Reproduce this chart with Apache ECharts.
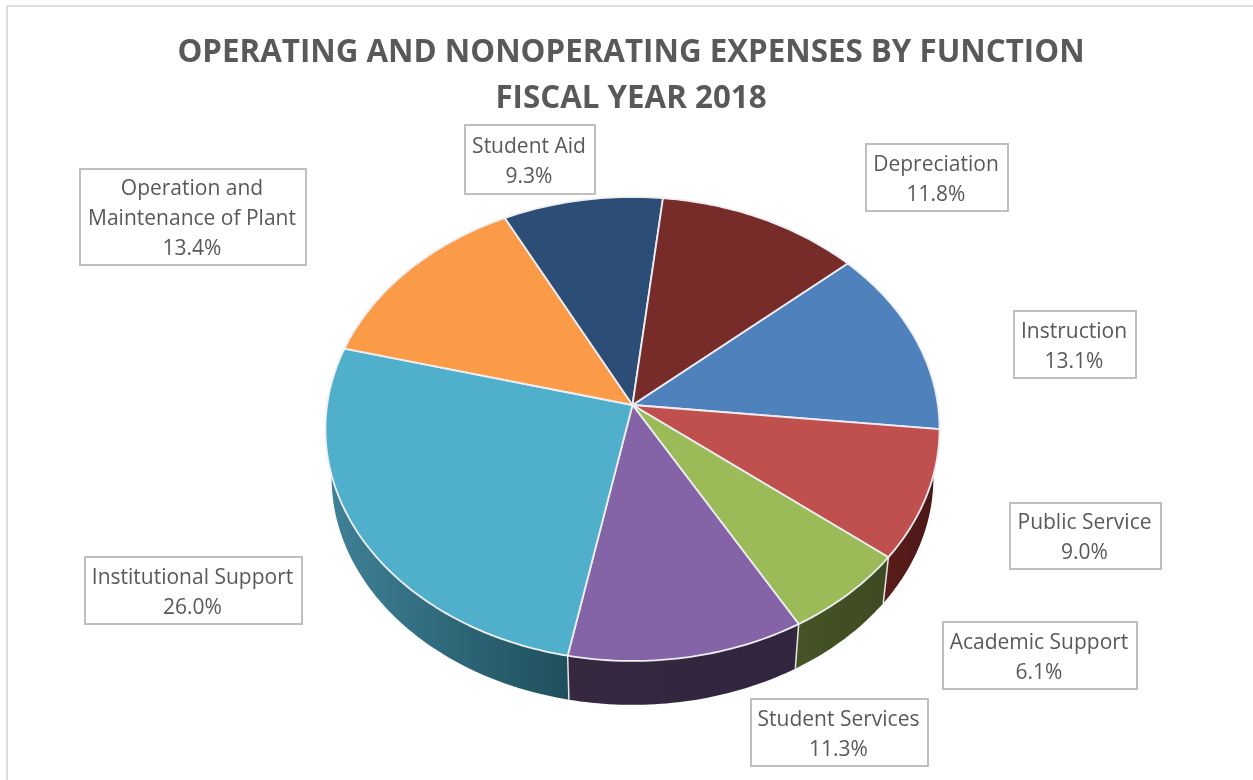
<!DOCTYPE html>
<html>
<head>
<meta charset="utf-8">
<title>Operating and Nonoperating Expenses by Function</title>
<style>
  html, body { margin: 0; padding: 0; background: #fff; }
  #chart { width: 1253px; height: 780px; }
</style>
<script src="https://cdn.jsdelivr.net/npm/echarts@6/dist/echarts.min.js"></script>
</head>
<body>
<div id="chart"></div>
<script>
// Expense shares in percent, clockwise from the upper right of the pie
const categories = ['Instruction', 'Public Service', 'Academic Support', 'Student Services',
  'Institutional Support', 'Operation and\nMaintenance of Plant', 'Student Aid', 'Depreciation'];
const shares = [13.1, 9.0, 6.1, 11.3, 26.0, 13.4, 9.3, 11.8];

const topColors = ['#4f81bd', '#c0504d', '#9bbb59', '#8464a6', '#50b0cc', '#fb9b48', '#2c4d75', '#772c2a'];
const wallLeftColors = ['#2f4d71', '#5a1e1c', '#465426', '#35283f', '#408299', '#a0602c', '#1a2e46', '#471a19'];
const wallRightColors = ['#2b4667', '#4a1614', '#3e4a22', '#312540', '#1f4f5c', '#8f5628', '#182a40', '#401716'];

// Annotation boxes: left, top, width, height
const labelBoxes = [
  [1014, 311, 122, 67], [1010, 503, 151, 66], [943, 622, 194, 67], [751, 699, 177, 67],
  [85, 557, 217, 67], [80, 169, 226, 96], [465, 125, 130, 69], [866, 144, 142, 67]
];

// Projection of the tilted disc: the far side is foreshortened, so the apex sits above the ellipse centre
const apex = { x: 632.5, y: 405 };
const radiusX = 305.4;
const radiusY = 229.5;
const foreshorten = 0.1034;
const firstSliceAngle = 41.2;     // degrees above the horizontal
const rimDrop = 49;
const rimScale = 0.98;

function project(deg, lower) {
  const rad = deg * Math.PI / 180;
  const u = Math.cos(rad), v = Math.sin(rad);
  const w = 1 + foreshorten * v;
  const s = lower ? rimScale : 1;
  return [
    apex.x + s * radiusX * u / w,
    apex.y + (lower ? rimDrop : 0) - s * radiusY * v / w
  ];
}

function arcPoints(from, to, lower) {
  const steps = Math.max(6, Math.ceil(Math.abs(to - from)));
  const pts = [];
  for (let i = 0; i <= steps; i++) {
    pts.push(project(from + (to - from) * i / steps, lower));
  }
  return pts;
}

function renderSlice(params, api) {
  const i = params.dataIndex;
  let before = 0;
  for (let k = 0; k < i; k++) before += shares[k];
  const total = shares.reduce((a, b) => a + b, 0);
  const start = firstSliceAngle - before / total * 360;
  const end = start - api.value(0) / total * 360;

  const upper = arcPoints(start, end, false);
  const lower = arcPoints(end, start, true);
  const box = labelBoxes[i];

  return {
    type: 'group',
    children: [
      {
        type: 'polygon',
        z2: 1,
        shape: { points: upper.concat(lower) },
        style: {
          fill: {
            type: 'linear', x: 0, y: 0, x2: 1, y2: 0,
            colorStops: [
              { offset: 0, color: wallLeftColors[i] },
              { offset: 1, color: wallRightColors[i] }
            ]
          }
        }
      },
      {
        type: 'polyline',
        z2: 2,
        shape: { points: [project(start, false), project(start, true)] },
        style: { stroke: '#e6e6e6', lineWidth: 1.5, fill: null }
      },
      {
        type: 'polygon',
        z2: 3,
        shape: { points: [[apex.x, apex.y]].concat(upper) },
        style: { fill: topColors[i], stroke: '#eeeef2', lineWidth: 1.8, lineJoin: 'round' }
      },
      {
        type: 'rect',
        z2: 4,
        shape: { x: box[0], y: box[1], width: box[2], height: box[3] },
        style: { fill: '#fff', stroke: '#bfbfbf', lineWidth: 2 }
      },
      {
        type: 'text',
        z2: 5,
        style: {
          x: box[0] + box[2] / 2 - 1,
          y: box[1] + box[3] / 2 + 2.5,
          text: categories[i] + '\n' + api.value(0).toFixed(1) + '%',
          fill: '#595959',
          font: '21px "Open Sans"',
          lineHeight: 30,
          align: 'center',
          verticalAlign: 'middle'
        }
      }
    ]
  };
}

const chart = echarts.init(document.getElementById('chart'), null, { renderer: 'canvas' });
chart.setOption({
  backgroundColor: '#fff',
  animation: false,
  title: {
    text: 'OPERATING AND NONOPERATING EXPENSES BY FUNCTION\nFISCAL YEAR 2018',
    left: 626,
    top: 25,
    textAlign: 'center',
    textStyle: {
      color: '#595959',
      fontFamily: '"Open Sans"',
      fontWeight: 'bold',
      fontSize: 31.3,
      lineHeight: 46
    }
  },
  graphic: [{
    type: 'polyline',
    silent: true,
    shape: { points: [[7, 780], [7, 6], [1253, 6]] },
    style: { stroke: '#dedede', lineWidth: 2, fill: null }
  }],
  series: [{
    type: 'custom',
    coordinateSystem: 'none',
    silent: true,
    renderItem: renderSlice,
    data: shares.map((v, i) => ({ name: categories[i], value: [v] }))
  }]
});
</script>
</body>
</html>
